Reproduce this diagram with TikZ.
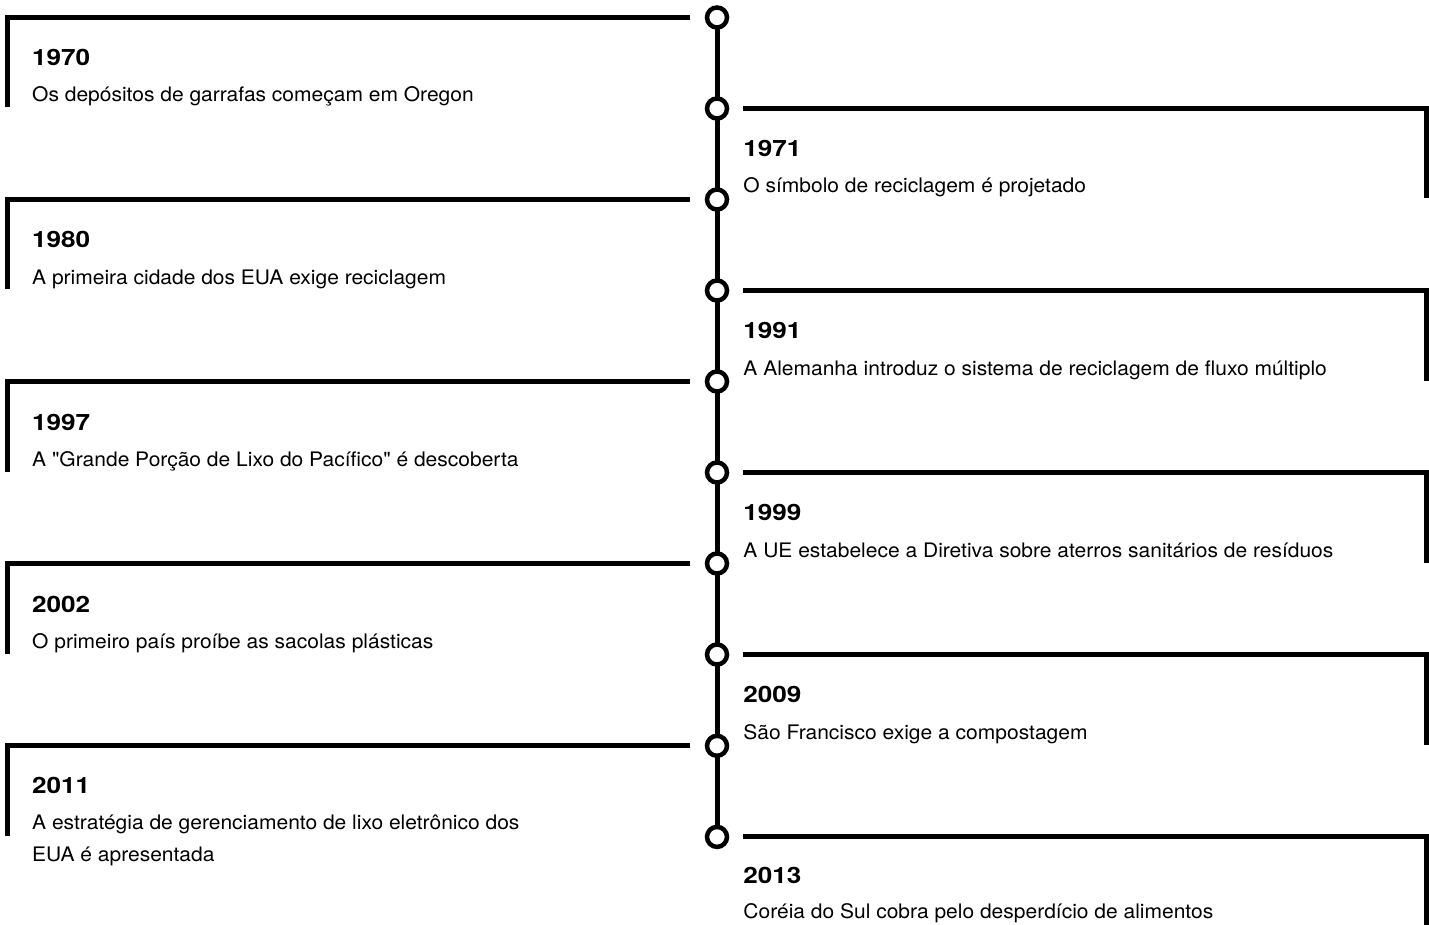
\documentclass[tikz,border=0pt]{standalone}
\usepackage{fontspec}
\setmainfont{TeX Gyre Heros}[Ligatures=TeXOff]
\newfontfamily\yearfont{TeX Gyre Heros}[FakeStretch=1.16]
\newfontfamily\descfont{TeX Gyre Heros}[FakeStretch=1.05,Ligatures=TeXOff]
\begin{document}
\begin{tikzpicture}[x=1pt,y=-1pt,
  bar/.style={line width=5pt},
  dot/.style={circle,draw,line width=4.5pt,minimum size=20pt,inner sep=0pt,fill=white},
  yearlbl/.style={anchor=base west,inner sep=0pt,font=\yearfont\fontsize{22.5}{23}\selectfont\bfseries},
  desclbl/.style={anchor=base west,inner sep=0pt,font=\descfont\fontsize{20}{32}\selectfont}]
\useasboundingbox (0,0) rectangle (1429,925);
% event heights
\foreach \k/\y in {0/17.5,1/108.5,2/199.5,3/290.5,4/381.5,5/472.5,6/563.5,7/654.5,8/745.8,9/836.9}
  \coordinate (p\k) at (717,\y);
% spine
\draw[bar] (p0) -- (p9);
\foreach \k in {0,...,9}
  \node[dot] (c\k) at (p\k) {};
% left events
\foreach \k/\yr/\txt in {0/1970/{Os depósitos de garrafas começam em Oregon},
                         2/1980/{A primeira cidade dos EUA exige reciclagem},
                         4/1997/{A "Grande Porção de Lixo do Pacífico" é descoberta},
                         6/2002/{O primeiro país proíbe as sacolas plásticas}}{
  \draw[bar] ([xshift=-14.5pt]c\k.west) -- (7.5,0 |- c\k.center) coordinate (lc\k) -- ([yshift=-90pt]lc\k);
  \node[yearlbl] (y\k) at ([xshift=24.5pt,yshift=-48.5pt]lc\k) {\yr};
  \node[desclbl] (d\k) at ([xshift=24.5pt,yshift=-84.5pt]lc\k) {\txt};
}
% 2011
\draw[bar] ([xshift=-14.5pt]c8.west) -- (7.5,0 |- c8.center) coordinate (lc8) -- ([yshift=-90pt]lc8);
\node[yearlbl] (y8) at ([xshift=24.5pt,yshift=-48pt]lc8) {2011};
\node[desclbl] (d8) at ([xshift=24.5pt,yshift=-84pt]lc8) {A estratégia de gerenciamento de lixo eletrônico dos};
\node[desclbl] (e8) at ([xshift=24.5pt,yshift=-116pt]lc8) {EUA é apresentada};
% right events
\foreach \k/\yr/\txt in {1/1971/{O símbolo de reciclagem é projetado},
                         3/1991/{A Alemanha introduz o sistema de reciclagem de fluxo múltiplo},
                         5/1999/{A UE estabelece a Diretiva sobre aterros sanitários de resíduos},
                         7/2009/{São Francisco exige a compostagem}}{
  \coordinate (rs\k) at ([xshift=14pt]c\k.east);
  \draw[bar] (rs\k) -- (1426,0 |- c\k.center) coordinate (rc\k) -- ([yshift=-90pt]rc\k);
  \node[yearlbl] (y\k) at ([yshift=-48pt]rs\k) {\yr};
  \node[desclbl] (d\k) at ([yshift=-84.5pt]rs\k) {\txt};
}
% 2013
\coordinate (rs9) at ([xshift=14pt]c9.east);
\draw[bar] (rs9) -- (1426,0 |- c9.center) coordinate (rc9) -- (1426,925);
\node[yearlbl] (y9) at ([yshift=-47pt]rs9) {2013};
\node[desclbl] (d9) at ([yshift=-82pt]rs9) {Coréia do Sul cobra pelo desperdício de alimentos};
\end{tikzpicture}
\end{document}
